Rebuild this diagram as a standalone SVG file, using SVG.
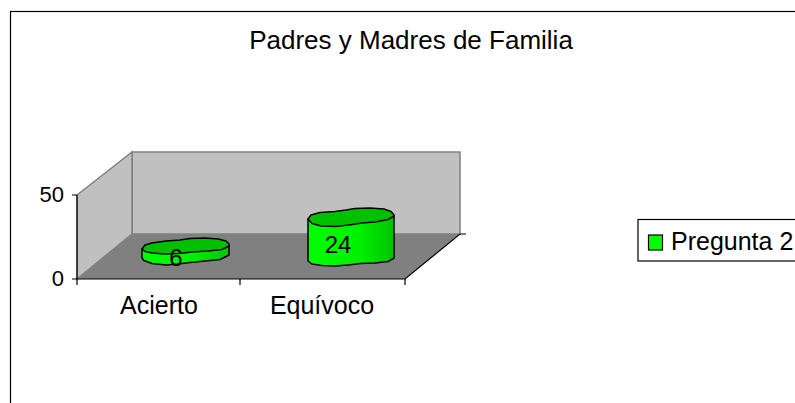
<svg xmlns="http://www.w3.org/2000/svg" width="795" height="403" viewBox="0 0 795 403">
<style>
text{font-family:"Liberation Sans",Arial,sans-serif;fill:#000}
.wall{fill:#C0C0C0;stroke:#808080;stroke-width:1.5}
.ax{stroke:#000;stroke-width:1.2;fill:none}
.top{fill:#00C000;stroke:#000;stroke-width:1.5;stroke-linejoin:round}
.side{fill:url(#g);stroke:#000;stroke-width:1.5;stroke-linejoin:round}
</style>
<defs>
<linearGradient id="g" x1="0" x2="1" y1="0" y2="0">
<stop offset="0" stop-color="#00FF00"/>
<stop offset="0.6" stop-color="#00F000"/>
<stop offset="1" stop-color="#00C400"/>
</linearGradient>
</defs>
<rect x="0" y="0" width="795" height="403" fill="#fff"/>
<rect x="10.5" y="11.5" width="800" height="400" fill="#fff" stroke="#000" stroke-width="1.2"/>
<text x="411" y="49" font-size="26" text-anchor="middle">Padres y Madres de Familia</text>
<g id="plot">
<polygon class="wall" points="132,152 460,152 460,234 132,234"/>
<polygon class="wall" points="77,195 132,152 132,234 77,279"/>
<polygon points="77,279 132,234 460,234 405,279" fill="#808080"/>
<polyline class="ax" points="77,195 77,279 405,279 460,234 466,234"/>
<path class="ax" d="M72,195H77M72,279H77M77,279V285M240,279V285M405,279V285"/>
<text x="64" y="202" font-size="22" text-anchor="end">50</text>
<text x="64" y="286" font-size="22" text-anchor="end">0</text>
<text x="159" y="314" font-size="25" text-anchor="middle">Acierto</text>
<text x="322" y="314" font-size="25" text-anchor="middle">Equívoco</text>
</g>
<g id="bar-acierto">
<path class="side" d="M142,249 V258 L144,260.5 L152,263.5 L166,265 L178,264 L190,262.5 L205,261 L220,259.5 L229,255 V245 Z"/>
<path class="top" d="M142,249 L145,245 L152,243 L166,241 L180,240 L190,238.5 L205,238 L218,239 L226,241 L229,244 L229,246 L222,249.5 L208,251 L192,252 L178,253.5 L165,254 L152,253 L145,251.5 Z"/>
<text x="176" y="266" font-size="24" text-anchor="middle">6</text>
</g>
<g id="bar-equivoco">
<path class="side" d="M308,219 V261 L312,264 L322,265.5 L335,266 L348,265 L360,263.5 L375,263 L388,261.5 L394,258 V216 Z"/>
<path class="top" d="M308,219 L311,215 L320,212.5 L335,211.5 L346,210 L355,208.5 L370,208 L384,209 L391,211.5 L394,215 L394,216 L388,219.5 L375,222 L362,223 L349,225 L335,226.5 L321,226 L312,223.5 Z"/>
<text x="338" y="253" font-size="24" text-anchor="middle">24</text>
</g>
<g id="legend">
<rect x="638" y="219.5" width="200" height="41.5" fill="#fff" stroke="#000" stroke-width="1.2"/>
<rect x="648.5" y="235" width="14" height="15" fill="#00FF00" stroke="#000" stroke-width="1.2"/>
<text x="671" y="250" font-size="25">Pregunta 2</text>
</g>
</svg>
